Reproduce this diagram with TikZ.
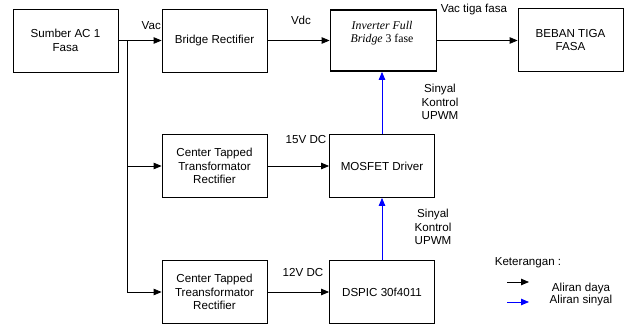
\documentclass[tikz,border=0pt]{standalone}
\usepackage{fontspec}
\setmainfont{Liberation Sans}
\newfontfamily\timesfont{Liberation Serif}
\usetikzlibrary{arrows.meta}
\begin{document}
\begin{tikzpicture}[x=1pt,y=-1pt,
  every node/.style={font=\fontsize{11.6}{13.7}\selectfont, inner sep=0pt},
  block/.style={draw, line width=0.8pt, minimum width=105pt, minimum height=63pt, align=center},
  lbl/.style={align=center},
  power/.style={line width=0.8pt, -{Triangle[length=8pt,width=6.5pt]}},
  signal/.style={power, draw=blue},
]
\useasboundingbox (0,0) rectangle (624,327);

% blocks
\node[block] (ac) at (65.5,40.5) {Sumber AC 1\\Fasa};
\node[block] (br) at (214.5,40.5) {Bridge Rectifier};
\node[block, line width=1.8pt, minimum width=106pt, minimum height=61pt] (inv) at (383.5,40.5) {};
\node[align=center, font=\fontsize{11.8}{12.5}\selectfont\timesfont] (invtxt) at (382,33)
  {\itshape Inverter Full\\\itshape Bridge \upshape 3 fase};
\node[block] (load) at (570.5,40) {BEBAN TIGA\\FASA};
\node[block] (ct1) at (214.5,166) {Center Tapped\\Transformator\\Rectifier};
\node[block] (drv) at (382,166) {MOSFET Driver};
\node[block] (ct2) at (214.5,292) {Center Tapped\\Treansformator\\Rectifier};
\node[block] (dsp) at (382,292) {DSPIC 30f4011};

% supply bus
\coordinate (tap) at (127,40.5);
\coordinate (b1) at (127,166);
\coordinate (b2) at (127,292);

% power flow
\draw[power] (ac.east) -- (br.west);
\draw[line width=0.8pt] (tap) -- (b2);
\draw[power] (b1) -- (ct1.west);
\draw[power] (b2) -- (ct2.west);
\draw[power] (br.east) -- (inv.west);
\draw[power] (inv.east) -- (load.west |- inv.east);
\draw[power] (ct1.east) -- (drv.west);
\draw[power] (ct2.east) -- (dsp.west);

% control signals
\draw[signal] (dsp.north) -- (drv.south);
\draw[signal] (drv.north) -- (inv.south -| drv.north);

% labels
\node[anchor=east] (lvac) at (161,26) {Vac};
\node (lvdc) at (301,20.5) {Vdc};
\node (lv3) at (474,9) {Vac tiga fasa};
\node (l15) at (306,139.5) {15V DC};
\node (l12) at (303,273) {12V DC};
\node[lbl] (s1) at (440,102) {Sinyal\\Kontrol\\UPWM};
\node[lbl] (s2) at (433,227) {Sinyal\\Kontrol\\UPWM};

% legend
\node (ket) at (528,263) {Keterangan :};
\coordinate (k1a) at (507,282);
\coordinate (k1b) at (529,282);
\coordinate (k2a) at (507,302);
\coordinate (k2b) at (529,302);
\draw[power] (k1a) -- (k1b);
\draw[signal] (k2a) -- (k2b);
\node (ld) at (581,288) {Aliran daya};
\node (ls) at (581,300) {Aliran sinyal};
\end{tikzpicture}
\end{document}
